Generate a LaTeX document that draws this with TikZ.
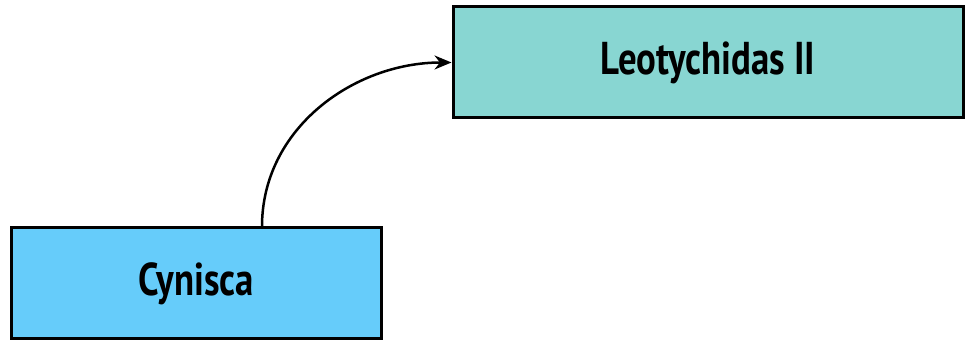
\documentclass[tikz,border=0pt]{standalone}
\usepackage{fontspec}
\usepackage{tikz}
\usetikzlibrary{arrows.meta}
\newfontfamily\boxfont[FakeStretch=0.8]{PT Sans}
\definecolor{leocol}{RGB}{136,214,210}
\definecolor{cyncol}{RGB}{102,204,250}

\begin{document}
\begin{tikzpicture}[x=1pt,y=1pt,
    person/.style={draw=black,line width=3pt,minimum height=111pt,
      inner sep=0pt,font=\boxfont\bfseries\fontsize{46}{52}\selectfont}]
    \useasboundingbox (0,0) rectangle (967,344);
    \node[person,fill=leocol,minimum width=510pt] (leo) at (708,281.5) {Leotychidas II};
    \node[person,fill=cyncol,minimum width=370pt] (cyn) at (196,60.5) {Cynisca};
    \draw[line width=2.5pt,-{Stealth[length=17pt,width=14pt]}]
      ([xshift=66pt]cyn.north) to[out=90,in=180] (leo.west);
  \end{tikzpicture}
\end{document}
